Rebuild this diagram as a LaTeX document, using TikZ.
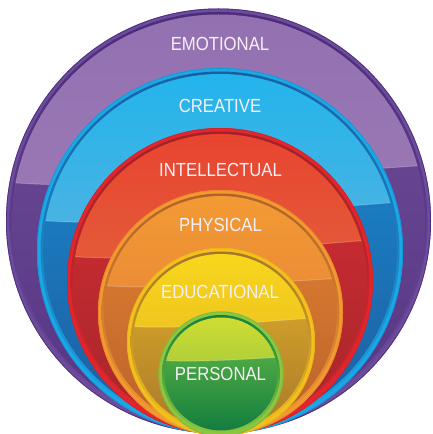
\documentclass[tikz,border=0pt]{standalone}
\usepackage{fontspec}
\usepackage{tikz}
\newfontfamily\lblfont[FakeStretch=0.88]{Liberation Sans}

% disc colours: rim, edge, inner line, upper gloss, lower part
\definecolor{emorim}{HTML}{6E4C9C}
\definecolor{emoedge}{HTML}{4F3080}
\definecolor{emoline}{HTML}{4A2C7A}
\definecolor{emouptop}{HTML}{9370B1}
\definecolor{emoupbot}{HTML}{9A78B4}
\definecolor{emolowtop}{HTML}{664490}
\definecolor{emolowbot}{HTML}{553685}
\definecolor{crerim}{HTML}{1CA7E5}
\definecolor{creedge}{HTML}{1399DA}
\definecolor{creline}{HTML}{1A5FA0}
\definecolor{creuptop}{HTML}{21B4EC}
\definecolor{creupbot}{HTML}{4AB3E2}
\definecolor{crelowtop}{HTML}{1A7CC0}
\definecolor{crelowbot}{HTML}{1F5C9F}
\definecolor{intrim}{HTML}{E3262D}
\definecolor{intedge}{HTML}{D42229}
\definecolor{intline}{HTML}{9E2328}
\definecolor{intuptop}{HTML}{E9432F}
\definecolor{intupbot}{HTML}{E35B38}
\definecolor{intlowtop}{HTML}{C52B30}
\definecolor{intlowbot}{HTML}{A3262B}
\definecolor{phyrim}{HTML}{F29A30}
\definecolor{phyedge}{HTML}{E9892C}
\definecolor{phyline}{HTML}{B0612A}
\definecolor{phyuptop}{HTML}{F39B33}
\definecolor{phyupbot}{HTML}{EB8C37}
\definecolor{phylowtop}{HTML}{D5772F}
\definecolor{phylowbot}{HTML}{B9612B}
\definecolor{edurim}{HTML}{F3C11D}
\definecolor{eduedge}{HTML}{EDB51C}
\definecolor{eduline}{HTML}{A4732B}
\definecolor{eduuptop}{HTML}{F8D81C}
\definecolor{eduupbot}{HTML}{EFC520}
\definecolor{edulowtop}{HTML}{CE9D2A}
\definecolor{edulowbot}{HTML}{A8772B}
\definecolor{perrim}{HTML}{8DC63F}
\definecolor{peredge}{HTML}{7CBB3D}
\definecolor{perline}{HTML}{11803F}
\definecolor{peruptop}{HTML}{D3DF31}
\definecolor{perupbot}{HTML}{AFCF39}
\definecolor{perlowtop}{HTML}{4CA843}
\definecolor{perlowbot}{HTML}{0E7A3F}

\tikzset{
  lbl/.style={text=white!94!violet,font=\lblfont\fontsize{19}{19}\selectfont,
    inner sep=0pt,anchor=base}
}

\begin{document}
\begin{tikzpicture}[x=1pt,y=1pt]
  \useasboundingbox (0,0) rectangle (432,434);
  \clip (0,0) rectangle (432,434);
  % discs, largest first
  \foreach \nm/\cx/\cy/\r/\yl/\yr in {emo/218.5/213/212.5/252/269,
    cre/220/183/183/214/232, int/220/153/153/178/194,
    phy/220.5/121.5/122.5/149/156, edu/221/92/94/108/116,
    per/221/60/62.5/74/77}{
    \fill[fill=\nm rim] (\cx,\cy) circle (\r);
    \draw[draw=\nm edge,line width=0.8] (\cx,\cy) circle (\r-0.4);
    \begin{scope}
      \clip (\cx,\cy) circle (\r-3.5);
      \shade[top color=\nm line,bottom color=\nm rim]
        (\cx-\r,\cy-\r) rectangle (\cx+\r,\cy+\r);
    \end{scope}
    \begin{scope}
      \clip (\cx,\cy) circle (\r-6);
      \shade[top color=\nm lowtop,bottom color=\nm lowbot]
        (\cx-\r,\cy-\r) rectangle (\cx+\r,\yr);
      \shade[top color=\nm uptop,bottom color=\nm upbot]
        (\cx-\r,\yl) .. controls (\cx-0.5*\r,\yl-0.05*\r) and
        (\cx+0.5*\r,\yr-0.03*\r) .. (\cx+\r,\yr) -- (\cx+\r,\cy+\r) --
        (\cx-\r,\cy+\r) -- cycle;
      \draw[white,opacity=0.2,line width=1]
        (\cx-\r,\yl) .. controls (\cx-0.5*\r,\yl-0.05*\r) and
        (\cx+0.5*\r,\yr-0.03*\r) .. (\cx+\r,\yr);
    \end{scope}
  }
  % labels
  \node[lbl] (emotional) at (220,383) {EMOTIONAL};
  \node[lbl] (creative) at (220,321) {CREATIVE};
  \node[lbl] (intellectual) at (220.5,257) {INTELLECTUAL};
  \node[lbl] (physical) at (220.5,202) {PHYSICAL};
  \node[lbl] (educational) at (220,135) {EDUCATIONAL};
  \node[lbl] (personal) at (220.5,53) {PERSONAL};
\end{tikzpicture}
\end{document}
